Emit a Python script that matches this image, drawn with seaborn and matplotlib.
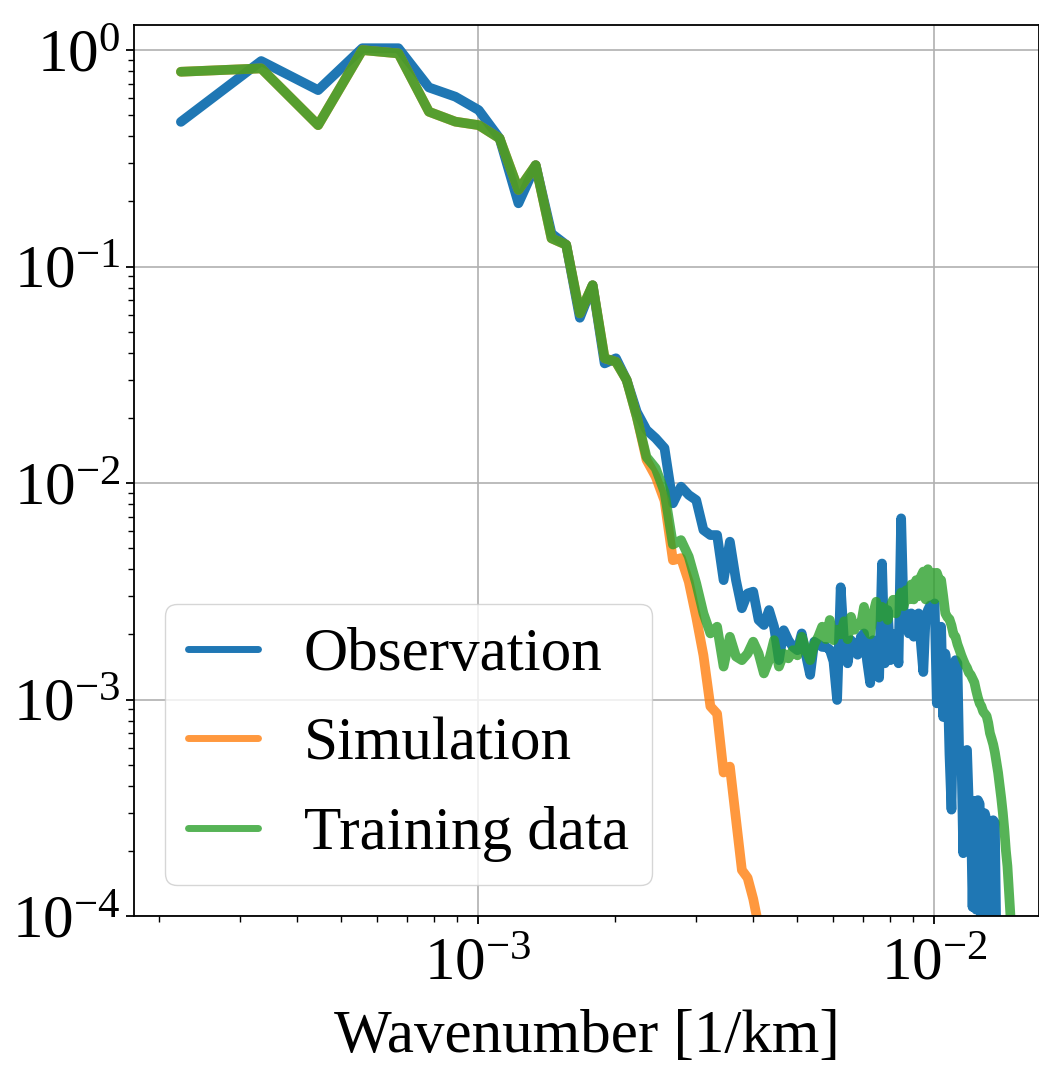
import matplotlib
matplotlib.use("Agg")
import matplotlib.pyplot as plt
import seaborn as sns
import numpy as np

# ---- data -------------------------------------------------------------
DK = 1.115e-4  # spectral resolution [1/km]
mode = [2, 3, 4, 5, 6, 7, 8, 9, 10, 11, 12, 13, 14, 15, 16, 17, 18, 19, 20,
        21, 22, 23, 24, 25, 26, 27, 28, 29, 30, 31, 32, 33, 34, 35, 36, 37,
        38, 39, 40, 41, 42, 43, 44, 45, 46, 47, 48, 49, 50, 51, 52, 53, 54,
        55, 56, 57, 58, 59, 60, 61, 62, 63, 64, 65, 66, 67, 68, 69, 70, 71,
        72, 73, 74, 75, 76, 77, 78, 79, 80, 81, 82, 83, 84, 85, 86, 87, 88,
        89, 90, 91, 92, 93, 94, 95, 96, 97, 98, 99, 100, 101, 102, 103, 104,
        105, 106, 107, 108, 109, 110, 111, 112, 113, 114, 115, 116, 117, 118,
        119, 120, 121, 122, 123, 124, 125, 126, 127, 128, 129, 130, 131, 132,
        133]

observation = [
    0.466, 0.89, 0.653, 1.02, 1.02, 0.672, 0.609, 0.528, 0.391, 0.196,
    0.294, 0.142, 0.126, 0.058, 0.082, 0.0357, 0.0377, 0.0299, 0.0213, 0.0176,
    0.0161, 0.0145, 0.00806, 0.00962, 0.00881, 0.00834, 0.00607, 0.00575, 0.00575, 0.00356,
    0.00536, 0.00356, 0.00264, 0.00309, 0.00315, 0.00233, 0.00221, 0.00259, 0.00217, 0.00152,
    0.00209, 0.00188, 0.00175, 0.00169, 0.00202, 0.0016, 0.0013, 0.00185, 0.0018, 0.00175,
    0.00175, 0.0017, 0.0015, 0.000995, 0.0033, 0.0018, 0.00147, 0.00188, 0.00175, 0.00161,
    0.00195, 0.00202, 0.0015, 0.00119, 0.00188, 0.0016, 0.00126, 0.00425, 0.00147, 0.00259,
    0.00152, 0.002, 0.00188, 0.00147, 0.00687, 0.00241, 0.00224, 0.00202, 0.0025, 0.00195,
    0.002, 0.0025, 0.0018, 0.00134, 0.00241, 0.00259, 0.00272, 0.00268, 0.00278, 0.00096,
    0.0018, 0.00217, 0.00083, 0.00163, 0.00135, 0.00056, 0.00031, 0.00115, 0.00152, 0.00147,
    0.00049, 0.00058, 0.000195, 0.00058, 0.000585, 0.00032, 0.00034, 0.00011, 0.00034, 0.000107,
    0.000343, 0.00033, 0.00008, 0.0003, 0.000298, 0.000277, 0.00008, 0.00025, 0.00009, 0.000277,
    0.00027, 0.00007, 0.00006, 0.00005, 0.00005, 0.00004, 0.00004, 0.00003, 0.00003, 0.00003,
    0.00002, 0.00002]

simulation = [
    0.794, 0.823, 0.45, 1.0, 0.965, 0.519, 0.467, 0.45, 0.391, 0.226,
    0.294, 0.135, 0.126, 0.0608, 0.082, 0.0377, 0.0363, 0.0299, 0.0202, 0.0128,
    0.0107, 0.0083, 0.0044, 0.0045, 0.0035, 0.0024, 0.0016, 0.00093, 0.00086, 0.00046,
    0.00049, 0.00028, 0.000163, 0.00015, 0.00012, 0.00009, 0.00007, 0.00005, 0.00004]

training = [
    0.794, 0.823, 0.45, 1.0, 0.965, 0.519, 0.467, 0.45, 0.391, 0.226,
    0.294, 0.135, 0.126, 0.0608, 0.082, 0.0377, 0.0363, 0.0299, 0.0202, 0.0132,
    0.0117, 0.0091, 0.0052, 0.00545, 0.00457, 0.00344, 0.0025, 0.00202, 0.00217, 0.00142,
    0.00195, 0.00158, 0.00152, 0.00163, 0.00185, 0.00163, 0.00132, 0.00152, 0.00188, 0.00142,
    0.00163, 0.00155, 0.00169, 0.0016, 0.00195, 0.0017, 0.00152, 0.0018, 0.00195, 0.00217,
    0.0019, 0.00233, 0.00188, 0.0021, 0.002, 0.0023, 0.0019, 0.00241, 0.0021, 0.00224,
    0.0022, 0.00268, 0.0021, 0.002, 0.0025, 0.00283, 0.0024, 0.00268, 0.0026, 0.00233,
    0.0027, 0.00289, 0.0025, 0.0029, 0.00312, 0.0027, 0.0032, 0.0029, 0.0034, 0.0029,
    0.00356, 0.003, 0.0037, 0.0039, 0.0029, 0.004, 0.0031, 0.00385, 0.0029, 0.00385,
    0.0036, 0.00356, 0.003, 0.0025, 0.0024, 0.00235, 0.0022, 0.002, 0.00195, 0.0018,
    0.0017, 0.0016, 0.00152, 0.00145, 0.0014, 0.00133, 0.0013, 0.00125, 0.0012, 0.0011,
    0.00102, 0.00096, 0.00093, 0.00088, 0.00086, 0.00084, 0.00078, 0.0007, 0.00066, 0.00062,
    0.00057, 0.00051, 0.00046, 0.0004, 0.00035, 0.0003, 0.00025, 0.0002, 0.00017, 0.00013,
    0.0001, 0.00008]

labels = ["Observation", "Simulation", "Training data"]
x_label = "Wavenumber [1/km]"

# ---- style --------------------------------------------------------------
sns.set_style("ticks")
plt.rcParams["font.family"] = ["Liberation Serif", "DejaVu Serif"]
plt.rcParams["mathtext.fontset"] = "stix"
plt.rcParams["axes.linewidth"] = 1.3
for key in ["text.color", "axes.labelcolor", "xtick.color", "ytick.color",
            "axes.edgecolor"]:
    plt.rcParams[key] = "black"

fig = plt.figure(figsize=(10.39, 10.66), dpi=100)
ax = fig.add_axes([0.129, 0.1407, 0.871, 0.8358])

k = np.array(mode) * DK
series = [(observation, "#1f77b4", 1.0),
          (simulation, "#ff7f0e", 0.8),
          (training, "#2ca02c", 0.8)]
for (vals, col, a), lab in zip(series, labels):
    sns.lineplot(x=k[:len(vals)], y=vals, ax=ax, color=col, alpha=a,
                 linewidth=7, label=lab, estimator=None, sort=False)

ax.set_xscale("log")
ax.set_yscale("log")
ax.set_xlim(1.76e-4, 1.70e-2)
ax.set_ylim(1e-4, 1.305)
ax.grid(True, which="major", color="#b0b0b0", linewidth=1.2)
ax.tick_params(which="both", direction="out", labelsize=44, colors="black")
ax.tick_params(which="major", length=6, width=1.3)
ax.tick_params(which="minor", length=4, width=1.0)
ax.tick_params(axis="x", which="major", pad=9)
ax.set_xlabel(x_label, fontsize=44, labelpad=12, color="black")
ax.set_ylabel("")

leg = ax.legend(loc="lower left", fontsize=44, handlelength=1.15,
                handletextpad=0.75, borderpad=0.38, labelspacing=0.55,
                framealpha=0.8)
for t in leg.get_texts():
    t.set_color("black")
for ln in leg.get_lines():
    ln.set_linewidth(5)

fig.savefig("out.png", dpi=100)
